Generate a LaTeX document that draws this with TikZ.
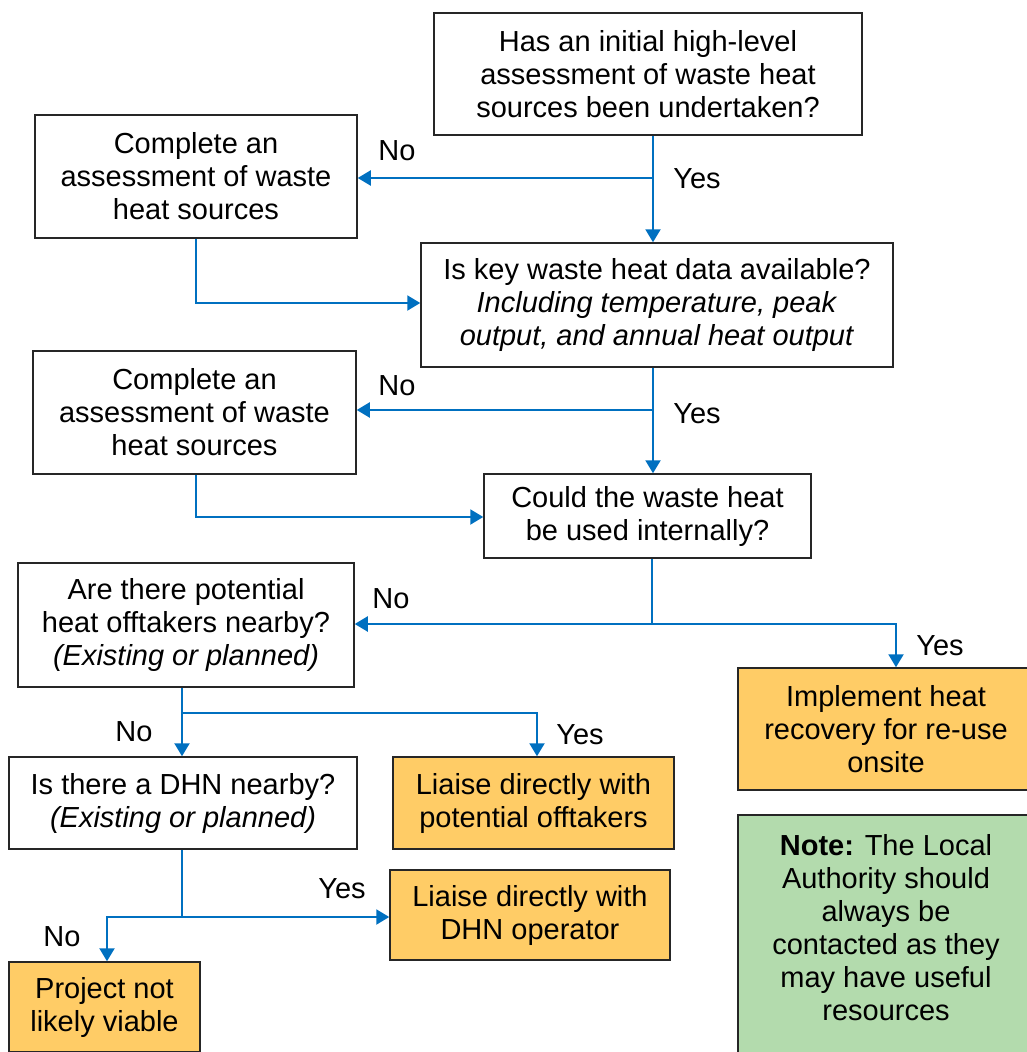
\documentclass[tikz,border=0pt]{standalone}
\usepackage{fontspec}
\setmainfont{Liberation Sans}
\usetikzlibrary{arrows.meta}

\definecolor{flowblue}{HTML}{0070C0}
\definecolor{actorange}{HTML}{FFCC66}
\definecolor{notegreen}{HTML}{B3DBAD}

\tikzset{
  txt/.style={font=\fontsize{29}{33}\selectfont, align=center, inner sep=0pt},
  question/.style={txt, draw=black!85, line width=1.5pt, fill=white},
  action/.style={question, fill=actorange},
  notebox/.style={question, fill=notegreen},
  flow/.style={draw=flowblue, line width=2.2pt, -{Triangle[length=13pt,width=15pt]}},
  branch/.style={draw=flowblue, line width=2.2pt},
  ans/.style={txt}
}

\begin{document}
\begin{tikzpicture}[x=1pt,y=-1pt]
\useasboundingbox (0,0) rectangle (1027,1052);
\clip (0,0) rectangle (1027,1052);

% boxes
\node[question, minimum width=428, minimum height=122] (A) at (648,74)
  {Has an initial high-level\\assessment of waste heat\\sources been undertaken?};
\node[question, minimum width=322, minimum height=123] (B) at (196,176.5)
  {Complete an\\assessment of waste\\heat sources};
\node[question, minimum width=472, minimum height=124] (C) at (657,305)
  {Is key waste heat data available?\\\textit{Including temperature, peak}\\\textit{output, and annual heat output}};
\node[question, minimum width=323, minimum height=123] (D) at (194.5,412.5)
  {Complete an\\assessment of waste\\heat sources};
\node[question, minimum width=327, minimum height=84] (E) at (647.5,516)
  {Could the waste heat\\be used internally?};
\node[question, minimum width=336, minimum height=124] (F) at (186,625)
  {Are there potential\\heat offtakers nearby?\\\textit{(Existing or planned)}};
\node[question, minimum width=348, minimum height=92] (G) at (183,803)
  {Is there a DHN nearby?\\\textit{(Existing or planned)}};
\node[action, minimum width=281, minimum height=92] (H) at (533.5,803)
  {Liaise directly with\\potential offtakers};
\node[action, minimum width=296, minimum height=122] (I) at (886,729)
  {Implement heat\\recovery for re-use\\onsite};
\node[notebox, minimum width=296, minimum height=250] (J) at (886,940) {};
\node[txt] (Jtext) at (886,927.5)
  {\textbf{Note:} The Local\\Authority should\\always be\\contacted as they\\may have useful\\resources};
\node[action, minimum width=280, minimum height=90] (K) at (530,915)
  {Liaise directly with\\DHN operator};
\node[action, minimum width=191, minimum height=90] (L) at (104.5,1007)
  {Project not\\likely viable};

% junctions
\coordinate (j1) at (653,178);
\coordinate (j2) at (196,303);
\coordinate (j3) at (653,410);
\coordinate (j4) at (196,517);
\coordinate (j5) at (652,624);
\coordinate (j6) at (896,624);
\coordinate (j7) at (182,713);
\coordinate (j8) at (537,713);
\coordinate (j9) at (182,917);
\coordinate (j10) at (107,917);

% connectors
\draw[flow] (A.south -| j1) -- (C.north -| j1);
\draw[flow] (j1) -- (B.east |- j1);
\draw[flow] (B.south -| j2) -- (j2) -- (C.west |- j2);
\draw[flow] (C.south -| j3) -- (E.north -| j3);
\draw[flow] (j3) -- (D.east |- j3);
\draw[flow] (D.south -| j4) -- (j4) -- (E.west |- j4);
\draw[branch] (E.south -| j5) -- (j5);
\draw[flow] (j5) -- (F.east |- j5);
\draw[flow] (j5) -- (j6) -- (I.north -| j6);
\draw[flow] (F.south -| j7) -- (G.north -| j7);
\draw[flow] (j7) -- (j8) -- (H.north -| j8);
\draw[branch] (G.south -| j9) -- (j9);
\draw[flow] (j9) -- (K.west |- j9);
\draw[flow] (j9) -- (j10) -- (L.north -| j10);

% answers
\node[ans] (n1) at (397,151) {No};
\node[ans] (y1) at (697,179) {Yes};
\node[ans] (n2) at (397,386) {No};
\node[ans] (y2) at (697,414) {Yes};
\node[ans] (n3) at (391,599) {No};
\node[ans] (y3) at (940,646) {Yes};
\node[ans] (n4) at (134,732) {No};
\node[ans] (y4) at (580,735) {Yes};
\node[ans] (y5) at (342,889) {Yes};
\node[ans] (n5) at (62,937) {No};
\end{tikzpicture}
\end{document}
